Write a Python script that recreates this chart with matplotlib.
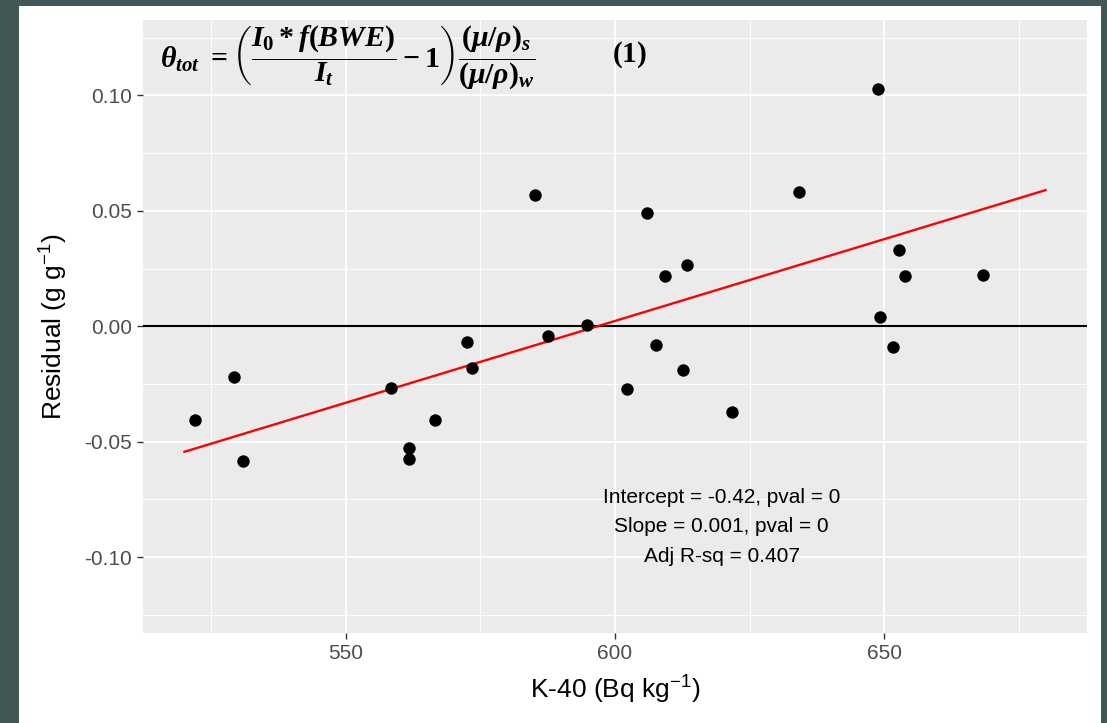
import numpy as np
import matplotlib.pyplot as plt
from matplotlib.patches import Rectangle

plt.rcParams['font.family'] = ['Liberation Sans', 'DejaVu Sans']
plt.rcParams['mathtext.fontset'] = 'custom'
plt.rcParams['mathtext.rm'] = 'Liberation Serif:bold'
plt.rcParams['mathtext.it'] = 'Liberation Serif:bold:italic'
plt.rcParams['mathtext.bf'] = 'Liberation Serif:bold'

# K-40 activity vs residual soil moisture
k40 = [522.0, 529.2, 530.8, 558.3, 561.7, 561.8, 566.5, 572.5, 573.5, 585.1,
       587.5, 594.8, 602.2, 605.9, 607.6, 609.2, 612.7, 613.3, 621.8, 634.1,
       648.8, 649.3, 651.7, 652.7, 653.9, 668.3]
resid = [-0.0407, -0.0218, -0.0582, -0.0266, -0.0527, -0.0574, -0.0406, -0.0068,
         -0.0182, 0.0570, -0.0043, 0.0004, -0.0273, 0.0492, -0.0082, 0.0216,
         -0.0189, 0.0264, -0.0372, 0.0580, 0.1026, 0.0039, -0.0091, 0.0329,
         0.0219, 0.0223]

# fitted line
fit_x = [520, 680]
intercept = -0.4225
slope = 0.000708

fig = plt.figure(figsize=(11.07, 7.23), dpi=100, facecolor='#435856')
fig.add_artist(Rectangle((19 / 1107, 0), 1082 / 1107, 717 / 723,
                         transform=fig.transFigure, facecolor='white',
                         edgecolor='none', zorder=-10))
ax = fig.add_axes([143 / 1107, 90 / 723, 944 / 1107, 613 / 723])
ax.set_facecolor('#EBEBEB')

ax.set_xlim(512.3, 687.7)
ax.set_ylim(-0.1328, 0.1326)
ax.set_xticks([550, 600, 650])
ax.set_xticks([525, 575, 625, 675], minor=True)
ax.set_yticks([-0.10, -0.05, 0.00, 0.05, 0.10])
ax.set_yticks([-0.125, -0.075, -0.025, 0.025, 0.075, 0.125], minor=True)
ax.set_yticklabels(['-0.10', '-0.05', '0.00', '0.05', '0.10'])
ax.grid(which='major', color='white', lw=1.3)
ax.grid(which='minor', color='white', lw=0.65)
ax.set_axisbelow(True)
for s in ax.spines.values():
    s.set_visible(False)
ax.tick_params(which='major', length=4, width=1, color='#333333',
               labelcolor='#4D4D4D', labelsize=15, pad=4)
ax.tick_params(which='minor', length=0)

ax.axhline(0, color='black', lw=1.5, zorder=2)
fx = np.array(fit_x)
ax.plot(fx, intercept + slope * fx, color='red', lw=1.7, zorder=3)
ax.scatter(k40, resid, s=80, color='black', zorder=4, linewidths=0)

ax.text(619.8, -0.0869,
        'Intercept = -0.42, pval = 0\nSlope = 0.001, pval = 0\nAdj R-sq = 0.407',
        ha='center', va='center', fontsize=15, linespacing=1.7)

eq = (r'$\theta_{tot}\ = \left(\dfrac{I_0 * f(BWE)}{I_t} - 1\right)'
      r'\dfrac{(\mu/\rho)_s}{(\mu/\rho)_w}$')
ax.text(515.4, 0.1165, eq, ha='left', va='center', fontsize=21.5)
ax.text(599.4, 0.1178, r'$\mathbf{(1)}$', ha='left', va='center', fontsize=21)

ax.set_xlabel(r'K-40 (Bq kg$\mathregular{^{-1}}$)', fontsize=19, labelpad=8)
ax.set_ylabel(r'Residual (g g$\mathregular{^{-1}}$)', fontsize=19, labelpad=10)

fig.savefig('out.png', dpi=100, facecolor=fig.get_facecolor())
